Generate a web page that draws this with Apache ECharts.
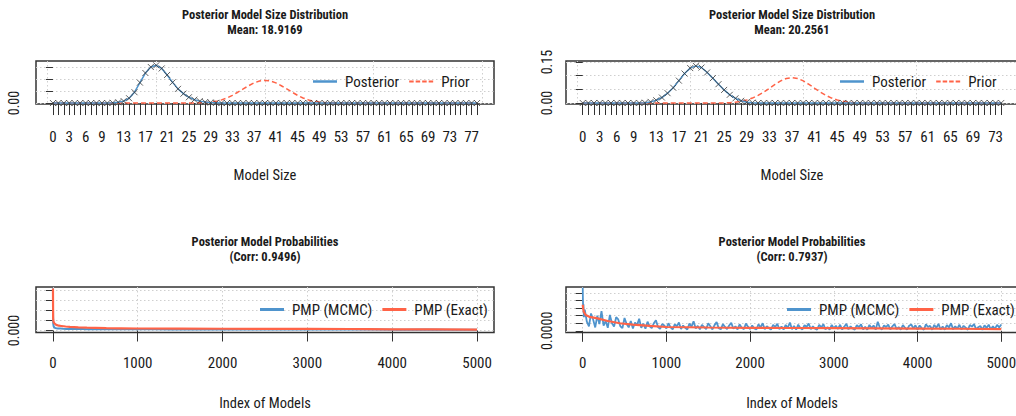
<!DOCTYPE html>
<html><head><meta charset="utf-8">
<script src="https://cdn.jsdelivr.net/npm/echarts@6/dist/echarts.min.js"></script>
<style>
html,body{margin:0;padding:0;background:#fff;overflow:hidden}
#chart{width:1016px;height:416px}
</style></head><body><div id="chart"></div>
<script>
// ---------- data ----------
// Posterior / prior model size distributions (index = model size)
const postSize1 = [0,0,0,0,0,0,0,0,0,0,0,
  0.001,0.003,0.008,0.020,0.045,0.085,0.125,0.150,0.157,0.144,
  0.117,0.086,0.059,0.039,0.024,0.014,0.008,0.004,0.002,0.001,
  0,0,0,0,0,0,0,0,0,0,0,0,0,0,0,0,0,0,0,0,0,0,0,0,0,0,0,0,0,0,0,0,0,0,0,0,0,0,0,0,0,0,0,0,0,0,0,0];
const priorSize1 = [0,0,0,0,0,0,0,0,0,0,0,0,0,0,0,0,0,0,0,0,0,0,0,0,0,0,0,
  0.001,0.002,0.004,0.007,0.013,0.021,0.032,0.045,0.059,0.072,0.084,0.092,0.094,
  0.092,0.084,0.072,0.059,0.045,0.032,0.021,0.013,0.007,0.004,0.002,0.001,
  0,0,0,0,0,0,0,0,0,0,0,0,0,0,0,0,0,0,0,0,0,0,0,0,0,0,0];
const postSize2 = [0,0,0,0,0,0,0,0,0,0,0,
  0.001,0.004,0.010,0.020,0.036,0.056,0.082,0.108,0.128,0.136,
  0.130,0.112,0.091,0.069,0.048,0.030,0.017,0.008,0.003,0.001,
  0,0,0,0,0,0,0,0,0,0,0,0,0,0,0,0,0,0,0,0,0,0,0,0,0,0,0,0,0,0,0,0,0,0,0,0,0,0,0,0,0,0,0,0];
const priorSize2 = [0,0,0,0,0,0,0,0,0,0,0,0,0,0,0,0,0,0,0,0,0,0,0,0,0,0,
  0.001,0.003,0.006,0.011,0.018,0.028,0.040,0.054,0.068,0.081,0.090,0.093,
  0.090,0.081,0.068,0.054,0.040,0.028,0.018,0.011,0.006,0.003,0.001,
  0,0,0,0,0,0,0,0,0,0,0,0,0,0,0,0,0,0,0,0,0,0,0,0,0,0];
const sizeLabels1 = [0,3,6,9,13,17,21,25,29,33,37,41,45,49,53,57,61,65,69,73,77];
const sizeLabels2 = [0,3,6,9,13,17,21,25,29,33,37,41,45,49,53,57,61,65,69,73];
const sizeGridLines = [-1,19,39,59,79];
const sizeYTicks = [0,0.05,0.10,0.15];
const sizeYLabels1 = [0];
const sizeYLabels2 = [0,0.15];

// Posterior model probabilities (values in units of 1e-6)
const exactIdx1 = [1,2,3,5,10,20,40,70,100,150,200,250,300,400,500,630,800,1000,1500,2000,2500,3000,3500,3700,4000,4500,5000];
const exactVal1 = [4200,2600,1250,1000,800,700,560,480,450,400,360,340,320,290,270,240,220,200,185,175,165,160,150,140,120,105,95];
const mcmcIdx1 = [1,2,4,8,15,25,40,60,90,120,160,200,250,300,350,400,450,500,550,600,700,800,900,1000,1200,1400,1600,1800,2000,2300,2600,2900,3200,3500,3800,4100,4400,4700,5000];
const mcmcVal1 = [4200,1800,700,450,330,260,230,200,190,170,160,150,160,140,150,130,140,125,135,120,150,120,140,115,130,110,125,105,120,100,115,95,110,90,105,85,100,80,75];

const exactIdx2 = [1,5,15,36,80,164,300,442,600,800,1000,1500,2000,2500,3000,3500,4000,4500,5000];
const exactVal2 = [345,300,250,210,185,167,130,100,82,66,50,44,40,37,35,33,30,27,22];
const mcmcHeadIdx2 = [1,3,6,10,15,20];
const mcmcHeadVal2 = [570,420,300,350,180,260];
const mcmcStep2 = 25; // body samples at models 25, 50, ..., 5000
const mcmcBodyVal2 = [
  280,120,60,230,150,45,200,90,260,70,130,40,210,100,55,180,
  150,60,35,170,90,45,130,30,110,75,160,40,95,28,120,60,35,100,140,50,25,90,70,30,
  100,45,20,85,60,110,25,70,40,18,95,55,125,30,65,20,80,48,22,100,60,18,75,115,35,20,88,50,24,70,105,28,60,18,84,42,20,95,55,22,
  70,30,17,86,45,100,21,60,35,16,80,50,92,20,58,16,78,40,110,22,65,15,82,38,18,74,55,95,20,60,28,15,80,45,88,19,50,15,78,35,
  66,25,80,17,55,94,19,60,30,15,76,48,85,18,52,14,78,36,70,15,120,40,18,72,50,82,17,60,90,22,48,15,76,40,16,68,84,30,72,15,
  70,35,15,86,50,66,14,78,40,92,18,56,15,74,44,100,19,60,28,80,17,66,42,14,76,55,88,18,48,64,14,72,38,82,17,60,25,78,45,84];
const indexTicks = [0,1000,2000,3000,4000,5000];
const pmpYTicks1 = [0,0.001,0.002,0.003,0.004];
const pmpYTicks2 = [0,0.0001,0.0002,0.0003,0.0004,0.0005];

// ---------- build ----------
const FONT = "'Roboto Condensed','Open Sans Condensed','Liberation Sans',sans-serif";
const BLUE = '#4F94CD', RED = '#FF6347', INK = '#1a1a1a', GRIDC = '#cfcfcf';
const U = 1e-6;
const pairs = (idx, val, f) => idx.map((x, i) => [x, val[i] * f]);
const sizePairs = arr => arr.map((v, k) => [k, v]);
const mcmcPairs2 = pairs(mcmcHeadIdx2, mcmcHeadVal2, U).concat(mcmcBodyVal2.map((v, i) => [(i + 1) * mcmcStep2, v * U]));

const boxes = [
  {l:36, r:494, t:61, b:104},
  {l:566, r:1018, t:61, b:104},
  {l:36, r:494, t:287, b:332.5},
  {l:566, r:1018, t:287, b:332.5}];
const grid = boxes.map(b => ({left:b.l, top:b.t, width:b.r - b.l, height:b.b - b.t,
  show:true, borderColor:'#333', borderWidth:1.5, backgroundColor:'transparent',
  containLabel:false, outerBoundsMode:'none'}));

const tickStyle = {color:'#333', width:1};
const dotted = {color:GRIDC, type:[1.5,2.5], width:1};
const lbl = {fontFamily:FONT, fontSize:15, color:INK};

function sizeXAxis(g, max, ticks, labels) {
  return {type:'value', gridIndex:g, min:-max*0.04, max:max*1.04, position:'bottom',
    axisLine:{show:false},
    axisTick:{show:true, customValues:ticks, length:12, lineStyle:tickStyle},
    axisLabel:Object.assign({customValues:labels, margin:25, formatter: v => String(v)}, lbl),
    splitLine:{show:false},
    name:'Model Size', nameLocation:'middle', nameGap:64,
    nameTextStyle:{fontFamily:FONT, fontSize:14.5, color:INK}};
}
function gridXAxis(g, max) {
  return {type:'value', gridIndex:g, min:-max*0.04, max:max*1.04, position:'top',
    axisLine:{show:false}, axisTick:{show:false, customValues:sizeGridLines},
    axisLabel:{show:false}, splitLine:{show:true, lineStyle:dotted}};
}
function indexXAxis(g) {
  return {type:'value', gridIndex:g, min:-199, max:5200, position:'bottom',
    axisLine:{show:false},
    axisTick:{show:true, customValues:indexTicks, length:11, lineStyle:tickStyle},
    axisLabel:Object.assign({customValues:indexTicks, margin:23, formatter: v => String(v)}, lbl),
    splitLine:{show:true, lineStyle:dotted},
    name:'Index of Models', nameLocation:'middle', nameGap:63,
    nameTextStyle:{fontFamily:FONT, fontSize:14.5, color:INK}};
}
function yAxis(g, min, max, ticks, labels, dec, margin) {
  return {type:'value', gridIndex:g, min:min, max:max,
    axisLine:{show:false},
    axisTick:{show:true, customValues:ticks, length:7, lineStyle:tickStyle},
    axisLabel:Object.assign({customValues:labels, rotate:90, margin:margin,
      formatter: v => Number(v).toFixed(dec)}, lbl, {fontSize:14}),
    splitLine:{show:true, lineStyle:dotted}};
}

const xAxis = [
  sizeXAxis(0, postSize1.length - 1, sizePairs(postSize1).map(p => p[0]), sizeLabels1),
  sizeXAxis(1, postSize2.length - 1, sizePairs(postSize2).map(p => p[0]), sizeLabels2),
  indexXAxis(2), indexXAxis(3),
  gridXAxis(0, postSize1.length - 1), gridXAxis(1, postSize2.length - 1)];
const yAxisArr = [
  yAxis(0, -0.004, 0.175, sizeYTicks, sizeYLabels1, 2, 15),
  yAxis(1, -0.0037, 0.154, sizeYTicks, sizeYLabels2, 2, 12),
  yAxis(2, -0.0002, 0.00434, pmpYTicks1, [0], 3, 15),
  yAxis(3, -0.0000225, 0.00058, pmpYTicks2, [0], 4, 12)];

const xMark = 'path://M0,0L10,10M10,0L0,10';
function sizeSeries(g, post, prior) {
  return [
    {type:'line', name:'Prior', xAxisIndex:g, yAxisIndex:g, data:sizePairs(prior), symbol:'none',
      lineStyle:{color:RED, width:1.5, type:[5,3]}, itemStyle:{color:RED}, z:3},
    {type:'line', name:'Posterior', xAxisIndex:g, yAxisIndex:g, data:sizePairs(post), symbol:'none',
      lineStyle:{color:BLUE, width:1.5}, itemStyle:{color:BLUE}, z:4},
    {type:'scatter', name:'posteriorPoints', xAxisIndex:g, yAxisIndex:g, data:sizePairs(post),
      symbol:xMark, symbolSize:[6,6], itemStyle:{color:'none', borderColor:'#3a3a3a', borderWidth:1}, z:5}];
}
function pmpSeries(g, mcmc, exact, mcmcWidth) {
  return [
    {type:'line', name:'PMP (MCMC)', xAxisIndex:g, yAxisIndex:g, data:mcmc, symbol:'none',
      lineStyle:{color:BLUE, width:mcmcWidth}, itemStyle:{color:BLUE}, z:3},
    {type:'line', name:'PMP (Exact)', xAxisIndex:g, yAxisIndex:g, data:exact, symbol:'none',
      lineStyle:{color:RED, width:2.2}, itemStyle:{color:RED}, z:4}];
}
const series = [].concat(
  sizeSeries(0, postSize1, priorSize1),
  sizeSeries(1, postSize2, priorSize2),
  pmpSeries(2, pairs(mcmcIdx1, mcmcVal1, U), pairs(exactIdx1, exactVal1, U), 2),
  pmpSeries(3, mcmcPairs2, pairs(exactIdx2, exactVal2, U), 1.8));

const titleStyle = {fontFamily:FONT, fontSize:12.5, fontWeight:'bold', color:INK, lineHeight:15};
const titles = [
  ['Posterior Model Size Distribution\nMean: 18.9169', 265, 7],
  ['Posterior Model Size Distribution\nMean: 20.2561', 792, 7],
  ['Posterior Model Probabilities\n(Corr: 0.9496)', 265, 234],
  ['Posterior Model Probabilities\n(Corr: 0.7937)', 792, 234]].map(t => ({
    text:t[0], left:t[1], top:t[2], textAlign:'center', textStyle:titleStyle, padding:0}));

const SOLID = 'path://M0,0h24v2.5h-24z';
const SOLID_THICK = 'path://M0,0h24v3h-24z';
const DASHED = 'path://M0,0h4.5v2h-4.5zM6.5,0h4.5v2h-4.5zM13,0h4.5v2h-4.5zM19.5,0h4.5v2h-4.5z';
function legend(items, left, top) {
  return {data:items, left:left, top:top, width:320, orient:'horizontal', itemWidth:24, itemHeight:12, itemGap:10,
    selectedMode:false, padding:0,
    textStyle:{fontFamily:FONT, fontSize:15, color:INK, padding:[0,0,0,3]}};
}
const sizeLegendItems = [{name:'Posterior', icon:SOLID}, {name:'Prior', icon:DASHED}];
const pmpLegendItems = [{name:'PMP (MCMC)', icon:SOLID_THICK}, {name:'PMP (Exact)', icon:SOLID_THICK}];
const legends = [
  legend(sizeLegendItems, 313, 74),
  legend(sizeLegendItems, 840, 74),
  legend(pmpLegendItems, 260, 302),
  legend(pmpLegendItems, 787, 302)];

const chart = echarts.init(document.getElementById('chart'), null, {renderer:'svg'});
chart.setOption({
  animation:false, backgroundColor:'#fff',
  title:titles, legend:legends, grid:grid, xAxis:xAxis, yAxis:yAxisArr, series:series});
</script></body></html>
